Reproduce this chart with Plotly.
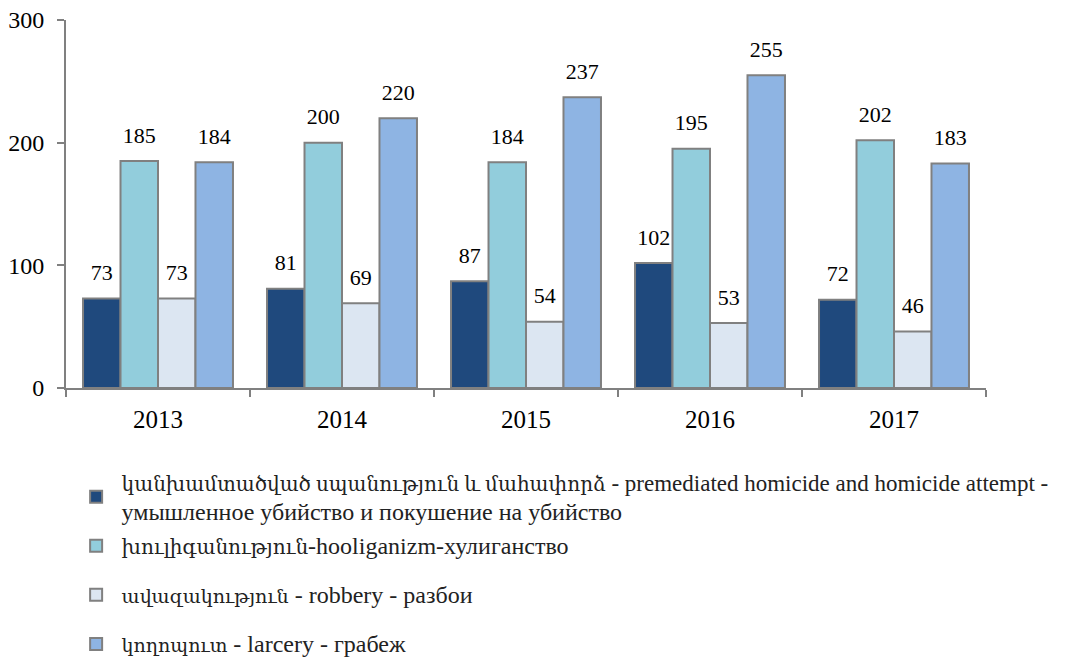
import plotly.graph_objects as go

years = ["2013", "2014", "2015", "2016", "2017"]
homicide = [73, 81, 87, 102, 72]
hooliganism = [185, 200, 184, 195, 202]
robbery = [73, 69, 54, 53, 46]
larceny = [184, 220, 237, 255, 183]

NB = "\u00a0"


def hy(s, size=20):
    return f"<span style='font-size:{size}px'>" + s + "</span>"


def lc(s, size=24):
    return f"<span style='font-size:{size}px'>" + s + "</span>"


names = [
    NB + hy("կանխամտածված սպանություն և մահափորձ") + lc(" - premediated homicide and homicide attempt -", 23)
    + "<br>" + NB + lc("умышленное убийство и покушение на убийство"),
    NB + hy("խուլիգանություն") + lc("-hooliganizm-хулиганство"),
    NB + hy("ավազակություն", 19) + lc(" - robbery - разбои"),
    NB + hy("կողոպուտ", 19) + lc(" - larcery - грабеж"),
]
colors = ["#1F497D", "#92CDDC", "#DCE6F2", "#8EB4E3"]
series = [homicide, hooliganism, robbery, larceny]

FONT = "'Liberation Serif', 'Times New Roman', 'DejaVu Serif', serif"

fig = go.Figure()
for i, (nm, vals, col) in enumerate(zip(names, series, colors)):
    fig.add_trace(go.Bar(
        x=years, y=vals, name=nm, offsetgroup=str(i),
        marker=dict(color=col, line=dict(color="#808080", width=2)),
        legendgroup=f"g{i}",
        legend="legend" if i == 0 else "legend2",
    ))
for i, vals in enumerate(series):
    fig.add_trace(go.Scatter(
        x=years, y=vals, mode="markers+text", offsetgroup=str(i),
        marker=dict(size=19, opacity=0),
        text=[str(v) for v in vals], textposition="top center",
        textfont=dict(family=FONT, size=22, color="black"),
        cliponaxis=False, showlegend=False, hoverinfo="skip",
    ))

legend_font = dict(family=FONT, size=22, color="#222")
fig.update_layout(
    width=1065, height=662,
    paper_bgcolor="white", plot_bgcolor="white",
    margin=dict(l=58, r=87, t=12, b=282, autoexpand=False),
    barmode="group", bargap=0.185, bargroupgap=0,
    scattermode="group", scattergap=0.185,
    font=dict(family=FONT, size=22, color="black"),
    showlegend=True,
    legend=dict(
        x=0.011, y=-0.2, xanchor="left", yanchor="top",
        font=legend_font, bgcolor="rgba(0,0,0,0)",
    ),
    legend2=dict(
        x=0.011, y=-0.372, xanchor="left", yanchor="top",
        font=legend_font, tracegroupgap=17.5, traceorder="grouped",
        bgcolor="rgba(0,0,0,0)",
    ),
)
fig.update_xaxes(
    showline=True, linecolor="#808080", linewidth=2,
    ticks="outside", tickson="boundaries", ticklen=7, tickcolor="#808080", tickwidth=2,
    tickfont=dict(family=FONT, size=25, color="black"),
    showgrid=False, zeroline=False, ticklabelstandoff=8,
)
fig.update_yaxes(
    range=[0, 300], tickvals=[0, 100, 200, 300],
    showline=True, linecolor="#808080", linewidth=2,
    ticks="outside", ticklen=7, tickcolor="#808080", tickwidth=2,
    tickfont=dict(family=FONT, size=24, color="black"),
    showgrid=False, zeroline=False, ticklabelstandoff=8,
    ticklabeloverflow="allow",
)

fig.write_html("out.html")
